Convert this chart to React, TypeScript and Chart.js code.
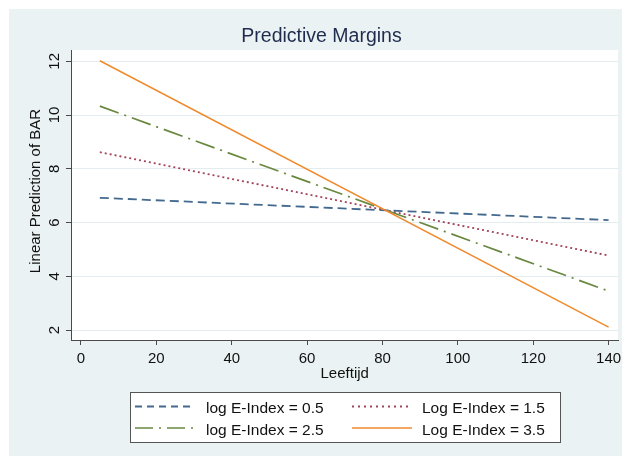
import React, { useEffect, useRef } from "react";
import { Chart, registerables } from "chart.js";

Chart.register(...registerables);

// ---- data ----
const xValues = [5, 140];
const seriesLabels = [
  "log E-Index = 0.5",
  "Log E-Index = 1.5",
  "log E-Index = 2.5",
  "Log E-Index = 3.5",
];
const series05 = [6.92, 6.09];
const series15 = [8.62, 4.77];
const series25 = [10.33, 3.45];
const series35 = [12.02, 2.11];
const xTicks = [0, 20, 40, 60, 80, 100, 120, 140];
const yTicks = [2, 4, 6, 8, 10, 12];
const chartTitle = "Predictive Margins";
const xTitle = "Leeftijd";
const yTitle = "Linear Prediction of BAR";

// ---- styles ----
const FONT = '"Liberation Sans", Arial, Helvetica, sans-serif';
const BG = "#eaf2f3";
const GRID = "#e3edf0";
const AXIS = "#4a4a4a";
const colors = ["#44698f", "#a3445a", "#68883f", "#f08a2c"];
const dashes = [[9, 5], [2, 3], [20, 6, 2, 6], []];
const legendDashes = [[7, 5], [2, 4], [18, 6, 2, 6], []];
const widths = [1.8, 1.8, 1.7, 1.5];

const drawPlugin = {
  id: "stataDecor",
  beforeDraw(chart: any) {
    const { ctx, chartArea } = chart;
    ctx.save();
    ctx.fillStyle = "#ffffff";
    ctx.fillRect(0, 0, chart.width, chart.height);
    ctx.fillStyle = BG;
    ctx.fillRect(9, 9, chart.width - 9, chart.height - 9);
    ctx.fillStyle = "#ffffff";
    ctx.fillRect(
      chartArea.left,
      chartArea.top,
      chartArea.right - chartArea.left,
      chartArea.bottom - chartArea.top
    );
    ctx.restore();
  },
  afterDraw(chart: any) {
    const { ctx } = chart;
    const xs = chart.scales.x;
    const ys = chart.scales.y;
    ctx.save();
    // title
    ctx.fillStyle = "#1f2c4e";
    ctx.font = `19.5px ${FONT}`;
    ctx.textAlign = "center";
    ctx.textBaseline = "alphabetic";
    ctx.fillText(chartTitle, 321.5, 42.3);

    // x tick labels
    ctx.fillStyle = "#111111";
    ctx.font = `15px ${FONT}`;
    xTicks.forEach((v) => {
      ctx.fillText(String(v), xs.getPixelForValue(v), 362.7);
    });
    // x title
    ctx.fillText(xTitle, 344.7, 378.3);

    // y tick labels (rotated)
    yTicks.forEach((v) => {
      ctx.save();
      ctx.translate(58.5, ys.getPixelForValue(v));
      ctx.rotate(-Math.PI / 2);
      ctx.fillText(String(v), 0, 0);
      ctx.restore();
    });
    // y title
    ctx.save();
    ctx.translate(39.5, 191);
    ctx.rotate(-Math.PI / 2);
    ctx.fillText(yTitle, 0, 0);
    ctx.restore();

    // legend
    const bx = 130.5, by = 392.5, bw = 430, bh = 50;
    ctx.fillStyle = "#ffffff";
    ctx.fillRect(bx, by, bw, bh);
    ctx.strokeStyle = "#555555";
    ctx.lineWidth = 1;
    ctx.setLineDash([]);
    ctx.strokeRect(bx, by, bw, bh);

    const cols = [
      { lx0: 135, lx1: 194, tx: 206 },
      { lx0: 352, lx1: 412, tx: 422 },
    ];
    const rows = [{ ly: 406.5, ty: 413.3 }, { ly: 428, ty: 435.2 }];
    const ds = chart.data.datasets;
    for (let i = 0; i < ds.length; i++) {
      const c = cols[i % 2];
      const r = rows[Math.floor(i / 2)];
      ctx.beginPath();
      ctx.strokeStyle = ds[i].borderColor;
      ctx.lineWidth = ds[i].borderWidth;
      ctx.setLineDash(legendDashes[i]);
      ctx.moveTo(c.lx0, r.ly);
      ctx.lineTo(c.lx1, r.ly);
      ctx.stroke();
      ctx.setLineDash([]);
      ctx.fillStyle = "#111111";
      ctx.font = `15.5px ${FONT}`;
      ctx.textAlign = "left";
      ctx.fillText(ds[i].label, c.tx, r.ty);
    }
    ctx.restore();
  },
};

export default function App() {
  const ref = useRef<HTMLCanvasElement | null>(null);
  useEffect(() => {
    if (!ref.current) return;
    const all = [series05, series15, series25, series35];
    const chart = new Chart(ref.current, {
      type: "line",
      data: {
        datasets: all.map((s, i) => ({
          label: seriesLabels[i],
          data: s.map((y, j) => ({ x: xValues[j], y })),
          borderColor: colors[i],
          backgroundColor: colors[i],
          borderWidth: widths[i],
          borderDash: dashes[i],
          borderCapStyle: "butt",
          pointRadius: 0,
          fill: false,
          tension: 0,
          order: 3 - i,
        })),
      },
      options: {
        animation: false,
        responsive: false,
        maintainAspectRatio: false,
        devicePixelRatio: 1,
        layout: { padding: { left: 0, right: 4, top: 50, bottom: 76 } },
        plugins: {
          legend: { display: false },
          title: { display: false },
          tooltip: { enabled: false },
        },
        scales: {
          x: {
            type: "linear",
            min: -2.65,
            max: 142.5,
            afterFit: (s: any) => {
              s.height = 40;
            },
            ticks: {
              display: false,
              stepSize: 20,
              includeBounds: false,
            },
            grid: {
              drawOnChartArea: false,
              drawTicks: true,
              tickLength: 5,
              tickColor: AXIS,
              tickWidth: 1,
            },
            border: { display: true, color: AXIS, width: 1 },
          },
          y: {
            type: "linear",
            min: 1.628,
            max: 12.42,
            afterFit: (s: any) => {
              s.width = 71;
            },
            ticks: {
              display: false,
              stepSize: 2,
              includeBounds: false,
            },
            grid: {
              drawOnChartArea: true,
              color: GRID,
              lineWidth: 1,
              drawTicks: true,
              tickLength: 5,
              tickColor: AXIS,
              tickWidth: 1,
            },
            border: { display: true, color: AXIS, width: 1 },
          },
        },
      },
      plugins: [drawPlugin],
    } as any);
    return () => chart.destroy();
  }, []);
  return (
    <div style={{ position: "absolute", left: 0, top: 0, width: 622, height: 456 }}>
      <canvas ref={ref} width={622} height={456} style={{ display: "block", width: 622, height: 456 }} />
    </div>
  );
}
